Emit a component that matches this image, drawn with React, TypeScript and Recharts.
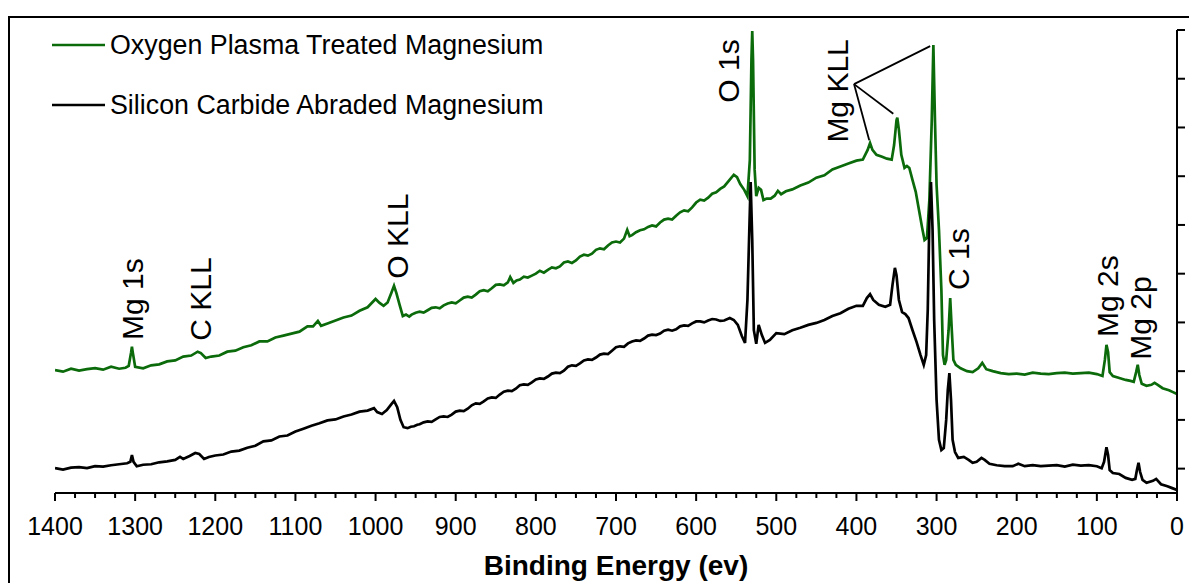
import React from 'react';
import { ComposedChart, Line, Scatter, XAxis, YAxis, ReferenceLine } from 'recharts';

const FONT = '"Liberation Sans", Arial, sans-serif';
const GREEN = '#0b6b0b';
const BLACK = '#000000';

// Oxygen plasma treated Mg survey (binding energy, eV / intensity, kcps)
const plasmaEnergy = [
  1400, 1390, 1380, 1370, 1360, 1350, 1340, 1330, 1320, 1312,
  1308, 1305, 1304, 1303, 1300, 1290, 1280, 1270, 1260, 1250,
  1240, 1230, 1222, 1218, 1212, 1205, 1195, 1185, 1175, 1165,
  1155, 1145, 1135, 1125, 1115, 1105, 1095, 1085, 1078, 1072,
  1068, 1060, 1050, 1040, 1030, 1020, 1010, 1000, 995, 990,
  985, 980, 977, 974, 970, 966,
  962, 958, 955, 950, 945, 940, 935, 930, 925, 920,
  915, 910, 905, 900, 895, 890, 885, 880, 875, 870,
  865, 860, 855, 850, 845, 840, 835, 832, 828, 824,
  820, 815, 810, 805, 800, 795, 790, 785, 780, 775,
  770, 765, 760, 755, 750, 745, 740, 735, 730, 725,
  720, 715, 710, 705, 700, 695, 690, 686, 683, 680,
  675, 670, 665, 660, 655, 650, 645, 640, 635, 630,
  625, 620, 615, 610, 605, 600, 595, 590, 585, 580,
  575, 570, 565,
  558, 553, 549, 545, 540, 536, 533, 531, 530, 529,
  527, 525, 522, 519, 516, 512, 507, 502, 498, 494,
  488, 480, 470, 460, 450, 440, 430, 420, 410, 400,
  392, 386, 383, 380, 375, 368, 362, 356, 353, 350,
  349, 347, 344, 340, 337, 334, 330, 326, 322, 318,
  315, 312, 309, 306, 304, 302, 300, 297, 294, 292,
  290, 288, 285, 283, 281, 279, 276, 270, 262, 255,
  248, 243, 238, 230, 220, 210, 200, 190, 180, 170,
  160, 150, 140, 130, 120, 110, 100, 93, 90, 88,
  86, 84, 80, 72, 64, 58, 54, 51, 49, 47,
  44, 38, 32, 28, 24, 18, 10, 5, 0,
];
const plasmaCounts = [
  252, 249, 255, 251, 254, 256, 253, 259, 255, 257,
  261, 289, 300, 289, 259, 256, 262, 264, 270, 272,
  280, 282, 290, 287, 277, 280, 282, 290, 292, 299,
  303, 311, 311, 319, 323, 327, 331, 342, 342, 353,
  343, 348, 354, 360, 364, 374, 381, 398, 390, 384,
  391, 412, 425, 410, 386, 363,
  366, 362, 366, 370, 372, 370, 375, 380, 381, 379,
  385, 389, 391, 389, 395, 401, 403, 401, 407, 414,
  416, 414, 420, 427, 428, 426, 432, 443, 431, 436,
  438, 444, 442, 446, 450, 456, 452, 458, 463, 461,
  465, 473, 475, 472, 477, 485, 489, 487, 491, 499,
  502, 500, 508, 514, 516, 514, 522, 540, 527, 529,
  535, 539, 541, 546, 549, 547, 555, 561, 563, 561,
  569, 576, 580, 578, 586, 596, 602, 600, 606, 614,
  617, 624, 629,
  643, 653, 648, 634, 622, 609, 683, 889, 948, 889,
  663, 609, 626, 622, 601, 604, 604, 610, 620, 613,
  619, 623, 631, 637, 647, 652, 664, 670, 676, 682,
  684, 704, 718, 704, 694, 690, 686, 684, 714, 765,
  770, 745, 694, 667, 671, 667, 642, 618, 581, 544,
  519, 523, 601, 765, 919, 765, 632, 540, 417, 283,
  263, 273, 334, 400, 334, 273, 263, 256, 250, 248,
  256, 267, 254, 250, 246, 244, 245, 243, 247, 245,
  244, 246, 247, 245, 246, 247, 244, 240, 273, 304,
  289, 248, 240, 236, 232, 230, 228, 248, 263, 242,
  224, 220, 222, 226, 222, 215, 211, 207, 203,
];

// Silicon carbide abraded Mg survey
const abradedEnergy = [
  1400, 1390, 1380, 1370, 1360, 1350, 1340, 1330, 1320, 1310,
  1306, 1304, 1302, 1298, 1290, 1280, 1270, 1260, 1250, 1244,
  1240, 1232, 1225, 1220, 1214, 1208, 1200, 1190, 1180, 1170,
  1160, 1150, 1140, 1130, 1120, 1110, 1100, 1090, 1080, 1070,
  1060, 1050, 1040, 1030, 1020, 1010, 1002, 998, 992, 986,
  980, 977, 973, 969, 965,
  960, 956, 952, 948, 945, 940, 935, 930, 925, 920,
  915, 910, 905, 900, 895, 890, 885, 880, 875, 870,
  865, 860, 855, 850, 845, 840, 835, 830, 825, 820,
  815, 810, 805, 800, 795, 790, 785, 780, 775, 770,
  765, 760, 755, 750, 745, 740, 735, 730, 725, 720,
  715, 710, 705, 700, 695, 690, 685, 680, 675, 670,
  665, 660, 655, 650, 645, 640, 635, 630, 625, 620,
  615, 610, 605, 600, 595, 590, 585, 580, 575, 570,
  565, 558, 553, 548, 543,
  539, 536, 534, 532, 530, 528, 525, 522, 518, 514,
  508, 500, 490, 480, 470, 460, 450, 440, 430, 420,
  410, 400, 392, 387, 383, 379, 372, 364, 358, 355,
  352, 350, 347, 343, 339, 335, 330, 325, 320, 316,
  313, 311, 309, 307, 305, 303, 300, 297, 294, 291,
  288, 286, 284, 282, 280, 277, 273, 266, 260, 255,
  250, 244, 240, 234, 225, 215, 205, 198, 190, 180,
  170, 160, 150, 140, 130, 120, 110, 100, 94, 91,
  88, 86, 84, 80, 72, 64, 56, 52, 50, 48,
  46, 43, 38, 30, 26, 20, 12, 6, 0,
];
const abradedCounts = [
  51, 48, 52, 53, 51, 55, 54, 57, 59, 61,
  64, 78, 64, 55, 58, 59, 63, 65, 68, 74,
  70, 76, 82, 80, 70, 74, 77, 79, 85, 87,
  93, 97, 106, 108, 116, 118, 126, 132, 138, 143,
  149, 151, 157, 161, 167, 169, 174, 166, 162, 170,
  183, 189, 176, 150, 135,
  133, 136, 137, 140, 141, 145, 147, 146, 151, 156,
  157, 156, 161, 167, 169, 168, 173, 180, 184, 183,
  188, 194, 196, 195, 202, 208, 210, 209, 214, 221,
  223, 222, 227, 233, 235, 234, 239, 245, 247, 246,
  251, 259, 262, 261, 266, 272, 274, 273, 278, 284,
  286, 285, 292, 299, 301, 300, 307, 311, 313, 312,
  317, 323, 325, 324, 327, 333, 335, 333, 336, 342,
  344, 343, 348, 352, 352, 350, 354, 357, 356, 353,
  354, 359, 355, 345, 322,
  308, 396, 519, 638, 519, 334, 306, 345, 324, 308,
  314, 328, 326, 334, 339, 345, 349, 355, 363, 369,
  378, 384, 384, 400, 408, 396, 386, 382, 386, 427,
  462, 447, 396, 371, 367, 359, 334, 310, 283, 263,
  283, 376, 560, 638, 540, 355, 191, 109, 88, 92,
  150, 211, 246, 191, 109, 84, 72, 74, 68, 62,
  64, 72, 68, 60, 57, 55, 55, 60, 55, 57,
  55, 56, 57, 54, 58, 56, 57, 55, 51, 64,
  94, 78, 47, 41, 39, 31, 27, 29, 47, 62,
  43, 27, 21, 25, 29, 18, 14, 10, 6,
];

const seriesNames = ['Oxygen Plasma Treated Magnesium', 'Silicon Carbide Abraded Magnesium'];

// peak assignments, placed at (binding energy, intensity)
const peakNames = ['Mg 1s', 'C KLL', 'O KLL', 'O 1s', 'Mg KLL', 'C 1s', 'Mg 2s', 'Mg 2p'];
const peakEnergy = [1303, 1219, 973, 559, 423, 273, 87, 46];
const peakHeight = [398, 398, 527, 866, 825, 480, 404, 359];

// leader lines from the Mg KLL label to its three peaks
const kllLeaders = [
  [{ x: 403, y: 839 }, { x: 308, y: 917 }],
  [{ x: 403, y: 839 }, { x: 354, y: 778 }],
  [{ x: 403, y: 839 }, { x: 384, y: 724 }],
];

const energyTicks = Array.from({ length: 57 }, (_, i) => i * 25);
const intensityTicks = [50, 150, 250, 350, 450, 550, 650, 750, 850, 950];

const plasma = plasmaEnergy.map((e, i) => ({ e, v: plasmaCounts[i] }));
const abraded = abradedEnergy.map((e, i) => ({ e, v: abradedCounts[i] }));
const peaks = peakNames.map((label, i) => ({ label, e: peakEnergy[i], v: peakHeight[i] }));

function EnergyTick({ x, y, payload }: any) {
  const major = payload.value % 100 === 0;
  return (
    <g>
      <line x1={x} y1={y} x2={x} y2={y + (major ? 8 : 5)} stroke="#000" strokeWidth={2} />
      {major && (
        <text x={x} y={y + 42} textAnchor="middle" fontSize={25} fontFamily={FONT} fill="#000">
          {payload.value}
        </text>
      )}
    </g>
  );
}

function PeakLabel({ cx, cy, payload }: any) {
  return (
    <text
      x={cx}
      y={cy}
      transform={`rotate(-90 ${cx} ${cy})`}
      textAnchor="middle"
      dominantBaseline="central"
      fontSize={30}
      fontFamily={FONT}
      fill="#000"
    >
      {payload.label}
    </text>
  );
}

function AxisTitle({ viewBox }: any) {
  return (
    <text
      x={viewBox.x + viewBox.width / 2}
      y={viewBox.y + 82}
      textAnchor="middle"
      fontSize={28}
      fontWeight="bold"
      fontFamily={FONT}
      fill="#000"
    >
      Binding Energy (ev)
    </text>
  );
}

export default function App() {
  const colors = [GREEN, BLACK];
  return (
    <div style={{ position: 'relative', width: 1189, height: 583, overflow: 'hidden', background: '#fff' }}>
      <style>{'html,body{margin:0;overflow:hidden;}'}</style>
      <div
        style={{
          position: 'absolute',
          left: 8,
          top: 16,
          width: 1300,
          height: 700,
          border: '2px solid #000',
          boxSizing: 'border-box',
        }}
      />
      <div style={{ position: 'absolute', left: 0, top: 0 }}>
        <ComposedChart width={1189} height={583} margin={{ top: 30, right: 0, bottom: 0, left: 55 }}>
          <XAxis
            type="number"
            dataKey="e"
            domain={[0, 1400]}
            reversed
            allowDataOverflow
            ticks={energyTicks}
            interval={0}
            height={90}
            tickSize={0}
            tickMargin={0}
            tickLine={false}
            tick={<EnergyTick />}
            axisLine={{ stroke: '#000', strokeWidth: 2 }}
            label={<AxisTitle />}
          />
          <YAxis
            orientation="right"
            type="number"
            domain={[0, 950]}
            allowDataOverflow
            ticks={intensityTicks}
            width={12}
            tickSize={8}
            tickFormatter={() => ''}
            axisLine={{ stroke: '#000', strokeWidth: 2 }}
            tickLine={{ stroke: '#000', strokeWidth: 2 }}
          />
          {kllLeaders.map((seg, i) => (
            <ReferenceLine key={i} segment={seg} stroke="#000" strokeWidth={1.8} />
          ))}
          <Line
            data={plasma}
            dataKey="v"
            name={seriesNames[0]}
            type="linear"
            stroke={GREEN}
            strokeWidth={2.7}
            dot={false}
            isAnimationActive={false}
          />
          <Line
            data={abraded}
            dataKey="v"
            name={seriesNames[1]}
            type="linear"
            stroke={BLACK}
            strokeWidth={2.7}
            dot={false}
            isAnimationActive={false}
          />
          <Scatter data={peaks} dataKey="v" shape={PeakLabel} legendType="none" isAnimationActive={false} />
        </ComposedChart>
      </div>
      <div style={{ position: 'absolute', left: 52, top: 15, fontFamily: FONT, fontSize: 26.8, lineHeight: 1 }}>
        {seriesNames.map((name, i) => (
          <div key={name} style={{ display: 'flex', alignItems: 'center', height: 60 }}>
            <svg width={53} height={6} style={{ display: 'block' }}>
              <line x1={0} y1={3} x2={53} y2={3} stroke={colors[i]} strokeWidth={2.5} />
            </svg>
            <span style={{ marginLeft: 5, color: '#000', whiteSpace: 'nowrap' }}>{name}</span>
          </div>
        ))}
      </div>
    </div>
  );
}
